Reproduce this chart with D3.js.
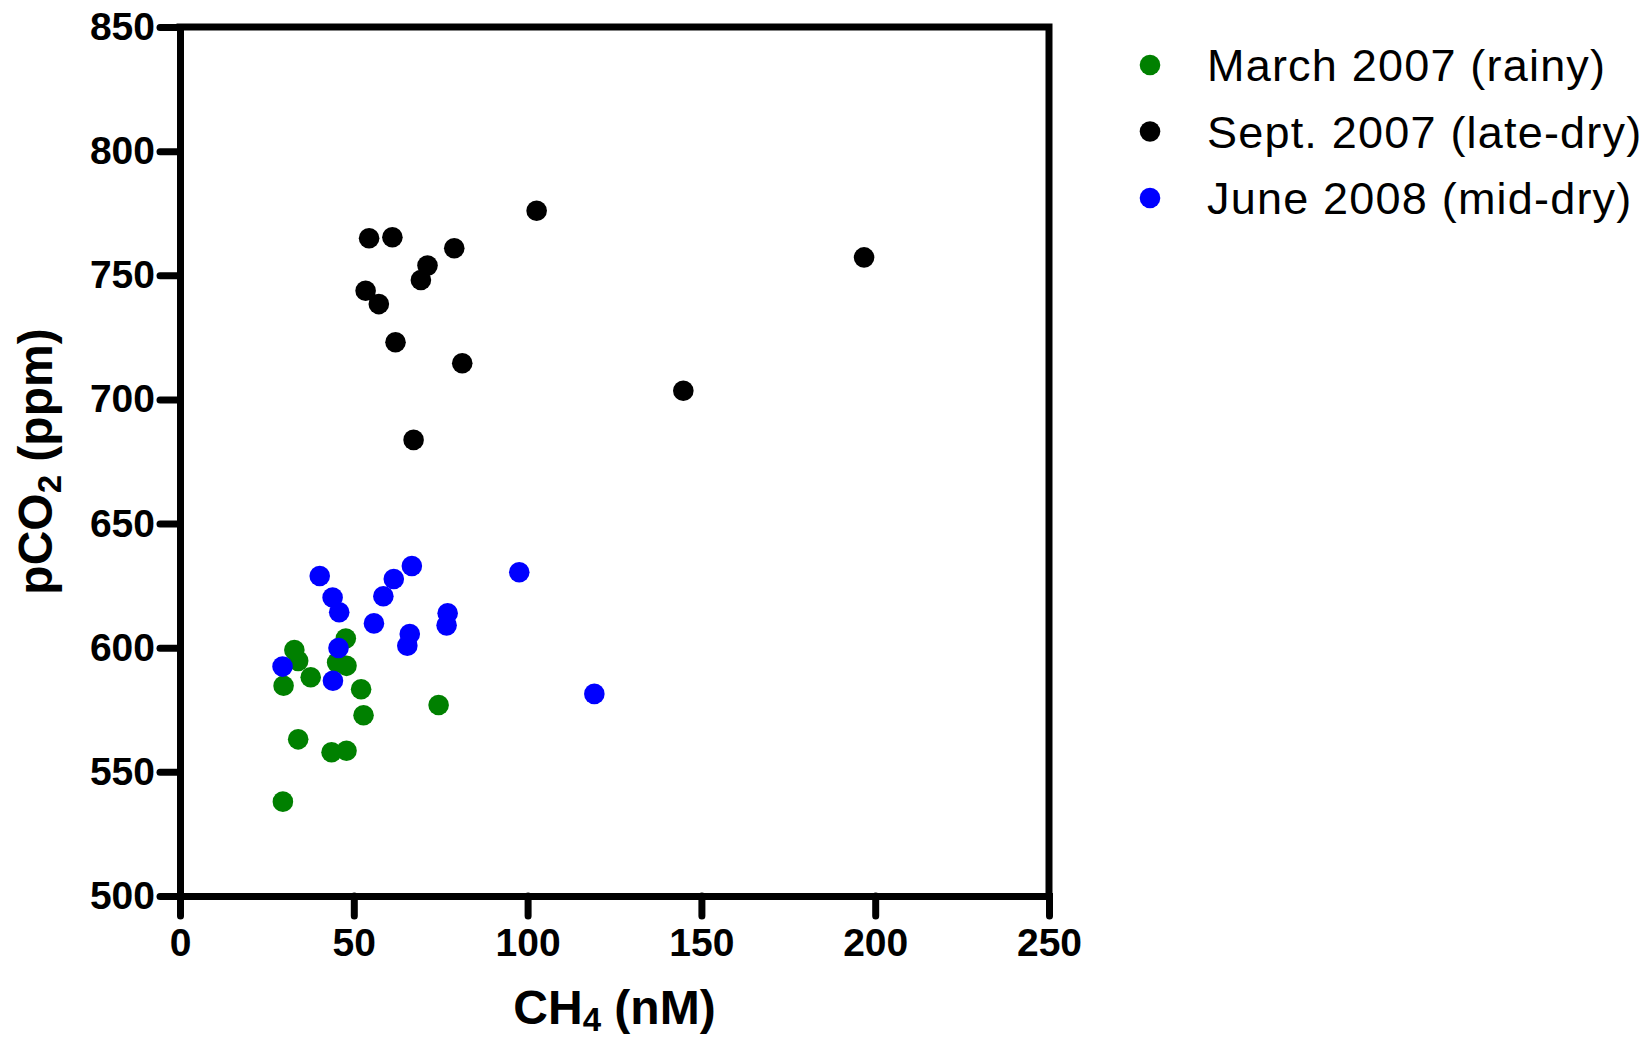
<!DOCTYPE html>
<html>
<head>
<meta charset="utf-8">
<script src="https://cdn.jsdelivr.net/npm/d3@7"></script>
<style>
  body { margin: 0; background: #fff; }
  svg { display: block; }
  text { font-family: "Liberation Sans", Arial, sans-serif; }
</style>
</head>
<body>
<svg id="chart" width="1650" height="1039"></svg>
<script>
"use strict";
// CH4 (nM), pCO2 (ppm)
const marchCH4 = [47.7, 32.9, 34.0, 45.2, 47.9, 37.6, 29.8, 52.1, 52.8, 74.4, 34.0, 43.6, 47.9, 29.6];
const marchCO2 = [603.7, 599.1, 594.7, 594.0, 592.7, 588.1, 584.7, 583.3, 572.8, 576.9, 563.1, 557.9, 558.5, 538.0];
const septCH4 = [102.6, 54.4, 61.1, 78.9, 71.2, 69.3, 53.4, 57.2, 62.0, 81.2, 144.8, 67.2, 196.8];
const septCO2 = [776.0, 764.9, 765.3, 760.9, 753.9, 748.1, 743.8, 738.4, 723.0, 714.6, 703.5, 683.7, 757.2];
const juneCH4 = [40.2, 43.9, 45.8, 66.7, 61.5, 58.5, 55.8, 77.0, 76.7, 66.1, 65.4, 45.6, 29.5, 44.0, 97.6, 119.2];
const juneCO2 = [628.9, 620.2, 614.3, 632.9, 627.7, 620.7, 609.8, 613.9, 609.0, 605.5, 600.8, 599.9, 592.4, 586.7, 630.4, 581.4];

const seriesNames = ["March 2007 (rainy)", "Sept. 2007 (late-dry)", "June 2008 (mid-dry)"];
const seriesColors = ["#008000", "#000000", "#0000ff"];
const xTicks = [0, 50, 100, 150, 200, 250];
const yTicks = [500, 550, 600, 650, 700, 750, 800, 850];

const series = [
    { name: seriesNames[0], color: seriesColors[0], xs: marchCH4, ys: marchCO2 },
    { name: seriesNames[1], color: seriesColors[1], xs: septCH4, ys: septCO2 },
    { name: seriesNames[2], color: seriesColors[2], xs: juneCH4, ys: juneCO2 }
];

const svg = d3.select("#chart");
const plotL = 180, plotR = 1049, plotT = 27, plotB = 896;
const lineW = 7;

const x = d3.scaleLinear().domain([0, 250]).range([plotL, plotR]);
const y = d3.scaleLinear().domain([500, 850]).range([plotB, plotT]);

// frame (top and right)
svg.append("path")
    .attr("d", "M" + plotL + "," + plotT + " L" + plotR + "," + plotT + " L" + plotR + "," + plotB)
    .attr("fill", "none")
    .attr("stroke", "#000")
    .attr("stroke-width", lineW)
    .attr("stroke-linecap", "square");

const yAxis = svg.append("g")
    .attr("transform", "translate(" + plotL + ",0)")
    .call(d3.axisLeft(y).tickValues(yTicks).tickSize(20).tickPadding(5).tickSizeOuter(0));
const xAxis = svg.append("g")
    .attr("transform", "translate(0," + plotB + ")")
    .call(d3.axisBottom(x).tickValues(xTicks).tickSize(20).tickPadding(12).tickSizeOuter(0));

[xAxis, yAxis].forEach(function (ax) {
    ax.select(".domain").attr("stroke", "#000").attr("stroke-width", lineW).attr("stroke-linecap", "square");
    ax.selectAll(".tick line").attr("stroke", "#000").attr("stroke-width", lineW).attr("stroke-linecap", "round");
    ax.selectAll(".tick text")
        .attr("fill", "#000")
        .style("font-family", "'Liberation Sans', Arial, sans-serif")
        .style("font-size", "39px")
        .style("font-weight", "bold");
});

// points
series.forEach(function (s) {
    svg.append("g")
        .selectAll("circle")
        .data(s.xs.map(function (v, i) { return [v, s.ys[i]]; }))
        .join("circle")
        .attr("cx", function (d) { return x(d[0]); })
        .attr("cy", function (d) { return y(d[1]); })
        .attr("r", 10.3)
        .attr("fill", s.color);
});

// axis titles
const xTitle = svg.append("text")
    .attr("x", (plotL + plotR) / 2)
    .attr("y", 1024)
    .attr("text-anchor", "middle")
    .style("font-size", "48px")
    .style("font-weight", "bold");
xTitle.append("tspan").text("CH");
xTitle.append("tspan").attr("dy", 7).style("font-size", "33px").text("4");
xTitle.append("tspan").attr("dy", -7).text(" (nM)");

const yTitle = svg.append("text")
    .attr("transform", "translate(52," + ((plotT + plotB) / 2) + ") rotate(-90)")
    .attr("text-anchor", "middle")
    .style("font-size", "48px")
    .style("font-weight", "bold");
yTitle.append("tspan").text("pCO");
yTitle.append("tspan").attr("dy", 9).style("font-size", "33px").text("2");
yTitle.append("tspan").attr("dy", -9).text(" (ppm)");

// legend
const legend = svg.append("g");
const legendRows = legend.selectAll("g")
    .data(series)
    .join("g")
    .attr("transform", function (d, i) { return "translate(1150," + (65 + i * 66.5) + ")"; });
legendRows.append("circle")
    .attr("r", 10.3)
    .attr("fill", function (d) { return d.color; });
legendRows.append("text")
    .attr("x", 57)
    .attr("dy", "0.36em")
    .style("font-size", "45px")
    .style("letter-spacing", "1.2px")
    .text(function (d) { return d.name; });
</script>
</body>
</html>
